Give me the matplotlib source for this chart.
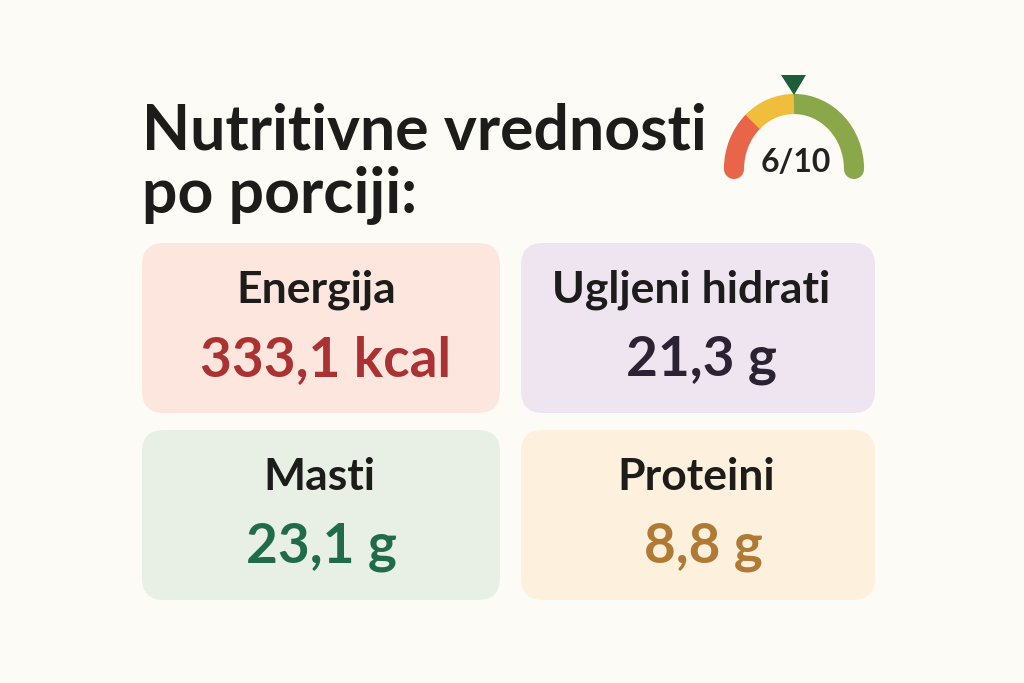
import matplotlib
matplotlib.use("Agg")
import matplotlib.pyplot as plt
from matplotlib import patches

# card data
labels = ["Energija", "Ugljeni hidrati", "Masti", "Proteini"]
values = ["333,1 kcal", "21,3 g", "23,1 g", "8,8 g"]
card_colors = ["#fde6de", "#efe5f0", "#e8f0e6", "#fdf1dd"]
value_colors = ["#ab3232", "#2b2233", "#1f6b4a", "#b07a35"]

title_lines = ["Nutritivne vrednosti", "po porciji:"]
score = 6
score_max = 10

# gauge segments, in score units
gauge_steps = [0, 2.7, 5, 10]
gauge_colors = ["#e8654a", "#f0bd3c", "#8aa84a"]

BG = "#fdfbf5"
plt.rcParams["font.family"] = ["Lato", "DejaVu Sans"]

fig = plt.figure(figsize=(10.24, 6.83), dpi=100, facecolor=BG)
ax = fig.add_axes([0, 0, 1, 1])
ax.set_xlim(0, 1024)
ax.set_ylim(683, 0)
ax.axis("off")

ax.text(142, 131, title_lines[0], fontsize=45, fontweight="bold", color="#1c1c1a", va="center", ha="left")
ax.text(142, 195, title_lines[1], fontsize=45, fontweight="bold", color="#1c1c1a", va="center", ha="left")

boxes = [(142, 243, 358, 170), (521, 243, 354, 170), (142, 430, 358, 170), (521, 430, 354, 170)]
label_x = [316, 691, 319, 696]
value_x = [325, 701, 321, 703]
for i, (x, y, w, h) in enumerate(boxes):
  rect = patches.FancyBboxPatch((x + 22, y + 22), w - 44, h - 44, boxstyle="round,pad=22,rounding_size=22",
                                facecolor=card_colors[i], edgecolor="none")
  ax.add_patch(rect)
  ax.text(label_x[i], y + 47, labels[i], fontsize=32, fontweight="bold", color="#1c1c1a", ha="center", va="center")
  ax.text(value_x[i], y + 117, values[i], fontsize=39.5, fontweight="bold", color=value_colors[i], ha="center", va="center")

# gauge, yellow goes last so its butt ends sit over the round caps
cx, cy, rx, ry = 794, 169, 60, 65
for j in [0, 2, 1]:
  a1 = 180 + 180 * gauge_steps[j] / score_max
  a2 = 180 + 180 * gauge_steps[j + 1] / score_max
  ax.add_patch(patches.Arc((cx, cy), 2 * rx, 2 * ry, theta1=a1, theta2=a2, lw=14.5, color=gauge_colors[j],
                           capstyle="round" if j != 1 else "butt"))
ax.add_patch(patches.Polygon([(781, 75), (806, 75), (794, 95)], closed=True, facecolor="#1f5c3a", edgecolor="none"))
ax.text(cx + 2, 163, "%d/%d" % (score, score_max), fontsize=23, fontweight="bold", color="#222222", ha="center", va="center")

fig.savefig("out.png", dpi=100, facecolor=BG)
